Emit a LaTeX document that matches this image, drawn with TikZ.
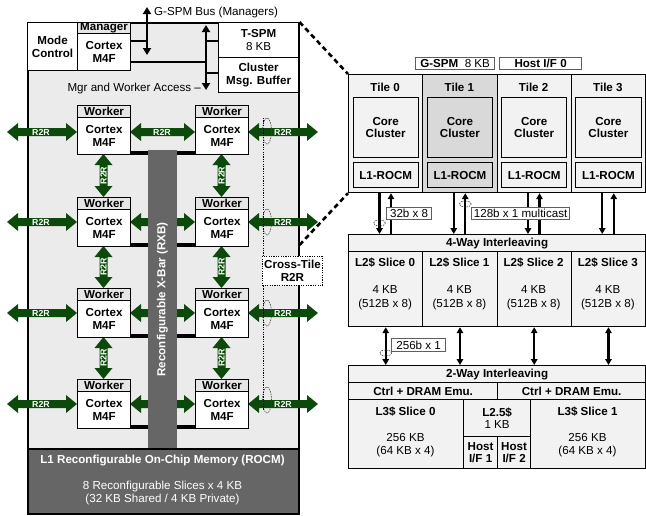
\documentclass[tikz,border=0pt]{standalone}
\usepackage{fontspec}
\setmainfont{Liberation Sans}
\usetikzlibrary{arrows.meta,calc}
\definecolor{bgg}{HTML}{EBEBEB}
\definecolor{hdrg}{HTML}{E6E6E6}
\definecolor{tileg}{HTML}{F2F2F2}
\definecolor{tileone}{HTML}{D9D9D9}
\definecolor{darkg}{HTML}{666666}
\definecolor{rgreen}{HTML}{0B4A0B}
\definecolor{lblg}{HTML}{5E5E5E}
\newcommand\hgar[3]{%
  \fill[rgreen] (#1,#3) -- (#1+11,#3-9) -- (#1+11,#3-4) -- (#2-11,#3-4) -- (#2-11,#3-9) -- (#2,#3) -- (#2-11,#3+9) -- (#2-11,#3+4) -- (#1+11,#3+4) -- (#1+11,#3+9) -- cycle;}
\newcommand\vgar[3]{%
  \fill[rgreen] (#1,#2) -- (#1-9,#2+11) -- (#1-4,#2+11) -- (#1-4,#3-11) -- (#1-9,#3-11) -- (#1,#3) -- (#1+9,#3-11) -- (#1+4,#3-11) -- (#1+4,#2+11) -- (#1+9,#2+11) -- cycle;}
% box node from corner (x1,y1) to (x2,y2), y downwards
\newcommand\bxn[7][]{\node[#1, anchor=north west, minimum width={((#5)-(#3))*1pt}, minimum height={((#6)-(#4))*1pt}] (#2) at (#3,#4) {#7};}
\begin{document}
\begin{tikzpicture}[x=1pt,y=-1pt,
  every node/.style={font=\fontsize{11.6}{12.5}\selectfont\bfseries, inner sep=0pt, align=center},
  bx/.style={draw=black, line width=1.2pt, fill=white},
  tb/.style={bx, fill=tileg},
  reg/.style={font=\fontsize{11.6}{12.5}\selectfont},
  lblbox/.style={draw=lblg, line width=1.2pt, fill=white, font=\fontsize{11.6}{12.5}\selectfont},
  r2r/.style={font=\fontsize{8.8}{9}\selectfont\bfseries, text=white},
  bus/.style={line width=2.6pt, {Triangle[length=7pt,width=8pt]}-{Triangle[length=7pt,width=8pt]}},
  wire/.style={line width=1.8pt},
  tarr/.style={line width=2.2pt, -{Triangle[length=6pt,width=6.5pt]}},
  darr/.style={line width=2.2pt, {Triangle[length=6pt,width=6.5pt]}-{Triangle[length=6pt,width=6.5pt]}},
  ell/.style={draw=black!75, line width=0.6pt, dash pattern=on 1.5pt off 1pt},
  callout/.style={line width=2.6pt, dash pattern=on 5pt off 3.5pt},
  dotl/.style={line width=0.9pt, dash pattern=on 1.2pt off 1.2pt}]
\useasboundingbox (0,0) rectangle (646,515);

% ---------------- left panel ----------------
\bxn[bx, fill=bgg, line width=1.5pt]{outer}{27}{22}{298}{513}{}
\bxn[bx]{mode}{27}{22}{77}{70}{Mode\\Control}
\bxn[bx, fill=hdrg]{mgrh}{77}{22}{130}{33}{Manager}
\bxn[bx]{mgr}{77}{33}{130}{70}{Cortex\\M4F}
\bxn[bx]{tspm}{218}{22}{298}{57}{T-SPM\\{\mdseries 8 KB}}
\bxn[bx]{cmb}{218}{57}{298}{92}{Cluster\\Msg. Buffer}

\coordinate (g1) at (147,7);
\coordinate (g2) at (147,55);
\draw[bus] (g1) -- (g2);
\node[reg, anchor=west] (gspmlbl) at (154,12) {G-SPM Bus (Managers)};
\draw[wire] (mgr.east |- 0,41) -- (g1 |- 0,41);
\coordinate (b1) at (206,25);
\coordinate (b2) at (206,90);
\draw[bus] (b1) -- (b2);
\draw[wire] (mgr.east |- 0,62) -- (b1 |- 0,62);
\draw[wire] (b1 |- 0,41) -- (tspm.west |- 0,41);
\draw[wire] (b1 |- 0,73) -- (cmb.west |- 0,73);
\node[reg, anchor=east] (mwa) at (201,88) {Mgr and Worker Access --};

% green R2R arrows
\foreach \r/\y in {1/132,2/222,3/313,4/404}{
  \hgar{7}{77}{\y}
  \node[r2r] (r2rl\r) at (41,\y) {R2R};
  \hgar{130}{195}{\y}
  \hgar{248}{318}{\y}
  \node[r2r] (r2rr\r) at (283,\y) {R2R};
}
\node[r2r] (r2rm1) at (162,132) {R2R};
\foreach \x/\c in {103.5/L,221.5/R}{
  \foreach \ya/\yb/\k in {154/197/1,246/288/2,337/379/3}{
    \vgar{\x}{\ya}{\yb}
    \node[r2r, rotate=90] (r2rv\c\k) at (\x,{(\ya+\yb)/2}) {R2R};
  }
}

% workers
\foreach \c/\xl in {L/77,R/195}{
  \foreach \r/\t in {1/105,2/197,3/288,4/379}{
    \bxn[bx, fill=hdrg]{wh\c\r}{\xl}{\t}{\xl+53}{\t+12}{Worker}
    \bxn[bx]{w\c\r}{\xl}{\t+12}{\xl+53}{\t+49}{Cortex\\M4F}
  }
}

% RXB and ROCM
\bxn[draw=black!60, line width=0.8pt, fill=darkg]{rxb}{148}{150}{176}{448}{}
\node[rotate=90, text=white] (rxbt) at (rxb.center) {Reconfigurable X-Bar (RXB)};
\foreach \r in {1,2,3,4}{
  \draw[line width=4pt] ([yshift=2pt]wL\r.south east) -- ([yshift=2pt]wL\r.south east -| rxb.west);
  \draw[line width=4pt] ([yshift=2pt]wR\r.south west) -- ([yshift=2pt]wR\r.south west -| rxb.east);
}
\bxn[draw=black, line width=1.5pt, fill=darkg]{rocm}{27}{448}{298}{513}{}
\node[text=white] (rocmt) at (162.5,461) {L1 Reconfigurable On-Chip Memory (ROCM)};
\node[reg, text=white] (rocmd) at (162.5,493) {8 Reconfigurable Slices x 4 KB\\(32 KB Shared / 4 KB Private)};

% cross-tile marks
\foreach \y/\k in {131/1,222/2,313/3,400/4}{
  \draw[ell] (267,\y) ellipse [x radius=4.5pt, y radius=13pt];
}
\bxn[draw=black, fill=white, dotl]{ctr}{262}{256}{322}{285}{Cross-Tile\\R2R}
\coordinate (dt1) at (263,118);
\coordinate (dt2) at (263,410);
\draw[dotl] (dt1) -- (dt1 |- ctr.north);
\draw[dotl] (dt2 |- ctr.south) -- (dt2);

% ---------------- right panel ----------------
\bxn[lblbox]{gspm}{415}{57}{494}{69}{\textbf{G-SPM}~~8 KB}
\bxn[lblbox, font=\fontsize{11.6}{12.5}\selectfont\bfseries]{hif0}{499}{57}{581}{69}{Host I/F 0}

\foreach \i in {0,1,2,3}{
  \pgfmathsetmacro\xl{348+74.25*\i}
  \pgfmathsetmacro\xr{\xl+74.25}
  \pgfmathsetmacro\xc{\xl+37.125}
  \ifnum\i=1 \def\tf{tileone}\else\def\tf{tileg}\fi
  \bxn[bx, fill=\tf]{tile\i}{\xl}{74}{\xr}{192}{}
  \node (tl\i) at (\xc,87) {Tile \i};
  \bxn[bx, fill=\tf]{cc\i}{\xl+4.5}{97}{\xr-4.5}{157}{Core\\Cluster}
  \bxn[bx, fill=\tf]{lr\i}{\xl+4.5}{162}{\xr-4.5}{187}{L1-ROCM}
  \bxn[tb]{sl\i}{\xl}{251}{\xr}{326}{}
  \node (slt\i) at (\xc,263) {L2\$ Slice \i};
  \node[reg] (slk\i) at (\xc,290) {4 KB};
  \node[reg] (slb\i) at (\xc,304) {(512B x 8)};
}
\draw[callout] (outer.north east) -- (tile0.north west);
\draw[callout] (outer.east |- 0,245) -- (tile0.south west);

\bxn[tb]{iv4}{348}{234}{645}{251}{4-Way Interleaving}
\bxn[tb]{iv2}{348}{365}{645}{382}{2-Way Interleaving}
\bxn[tb]{ctl0}{348}{382}{497}{399}{Ctrl + DRAM Emu.}
\bxn[tb]{ctl1}{497}{382}{645}{399}{Ctrl + DRAM Emu.}
\bxn[tb]{l30}{348}{399}{463}{468}{}
\node (l30t) at (405.5,412) {L3\$ Slice 0};
\node[reg] (l30d) at (405.5,445) {256 KB\\(64 KB x 4)};
\bxn[tb]{l31}{530}{399}{645}{468}{}
\node (l31t) at (587.5,412) {L3\$ Slice 1};
\node[reg] (l31d) at (587.5,445) {256 KB\\(64 KB x 4)};
\bxn[tb]{l25}{463}{399}{530}{436}{L2.5\$\\{\mdseries 1 KB}}
\bxn[tb]{hif1}{463}{436}{497}{468}{Host\\I/F 1}
\bxn[tb]{hif2}{497}{436}{530}{468}{Host\\I/F 2}

\foreach \i in {0,1,2,3}{
  \coordinate (dn\i) at ([xshift=31.5pt]tile\i.south west);
  \coordinate (up\i) at ([xshift=43pt]tile\i.south west);
  \draw[tarr] (dn\i) -- (dn\i |- iv4.north);
  \draw[tarr] (up\i |- iv4.north) -- (up\i);
  \draw[darr] (sl\i.south) -- (sl\i.south |- iv2.north);
}
\bxn[lblbox]{w32}{386}{207}{431}{219}{32b x 8}
\bxn[lblbox]{w128}{471}{207}{569}{219}{128b x 1 multicast}
\bxn[lblbox]{w256}{391}{338}{445}{351}{256b x 1}
\draw[ell] (dn0 |- 0,223) ellipse [x radius=6pt, y radius=3pt];
\draw[ell] (up1 |- 0,204) ellipse [x radius=6pt, y radius=3pt];
\draw[ell] (sl0.south |- 0,353) ellipse [x radius=6pt, y radius=3pt];
\end{tikzpicture}
\end{document}
